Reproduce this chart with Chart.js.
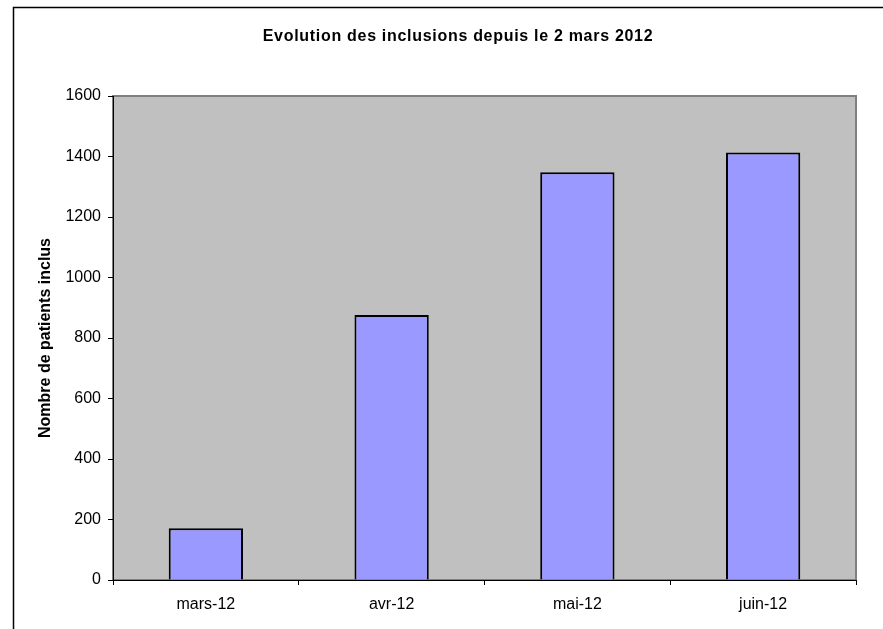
<!DOCTYPE html>
<html>
<head>
<meta charset="utf-8">
<script src="https://cdn.jsdelivr.net/npm/chart.js@4/dist/chart.umd.min.js"></script>
<style>
html,body{margin:0;padding:0;background:#fff;}
canvas{display:block;}
</style>
</head>
<body>
<canvas id="c" width="883" height="629"></canvas>
<script>
const categories = ["mars-12", "avr-12", "mai-12", "juin-12"];
const inclusions = [171, 876, 1348, 1413];
const chartTitle = "Evolution des inclusions depuis le 2 mars 2012";
const yTitle = "Nombre de patients inclus";

const FONT = "'Liberation Sans', Arial, sans-serif";

const framePlugin = {
  id: 'frame',
  beforeDraw(chart) {
    const ctx = chart.ctx;
    const a = chart.chartArea;
    ctx.save();
    ctx.fillStyle = '#fff';
    ctx.fillRect(0, 0, chart.width, chart.height);
    // outer chart frame
    ctx.strokeStyle = '#000';
    ctx.lineWidth = 1.5;
    ctx.strokeRect(13.5, 7.5, 940, 700);
    // plot area
    ctx.fillStyle = '#C0C0C0';
    ctx.fillRect(a.left, a.top, a.right - a.left, a.bottom - a.top);
    ctx.strokeStyle = '#808080';
    ctx.lineWidth = 2;
    ctx.strokeRect(a.left, a.top, a.right - a.left, a.bottom - a.top);
    // title
    ctx.fillStyle = '#000';
    ctx.font = "bold 16px " + FONT;
    ctx.textAlign = 'center';
    ctx.textBaseline = 'middle';
    try { ctx.letterSpacing = '0.7px'; } catch (e) {}
    ctx.fillText(chartTitle, 458, 37);
    ctx.restore();
  }
};

new Chart(document.getElementById('c'), {
  type: 'bar',
  data: {
    labels: categories,
    datasets: [{
      data: inclusions,
      backgroundColor: '#9999FF',
      borderColor: '#000',
      borderWidth: 2,
      categoryPercentage: 1,
      barPercentage: 0.4
    }]
  },
  options: {
    responsive: false,
    animation: false,
    devicePixelRatio: 1,
    layout: { padding: { left: 0, right: 27, top: 96, bottom: 0 } },
    plugins: {
      legend: { display: false },
      title: { display: false },
      tooltip: { enabled: false }
    },
    scales: {
      x: {
        afterFit(s) { s.height = 49; },
        grid: { offset: true, drawOnChartArea: false, tickLength: 5, color: '#000', lineWidth: 1 },
        border: { color: '#000', width: 1 },
        ticks: { color: '#000', font: { family: FONT, size: 16 }, padding: 10, maxRotation: 0 }
      },
      y: {
        min: 0, max: 1600,
        afterFit(s) { s.width = 113; },
        grid: { drawOnChartArea: false, tickLength: 5, color: '#000', lineWidth: 1 },
        border: { color: '#000', width: 1 },
        ticks: {
          stepSize: 200, color: '#000', font: { family: FONT, size: 16 }, padding: 7,
          callback: (v) => String(v)
        },
        title: {
          display: true, text: yTitle, color: '#000',
          font: { family: FONT, size: 16, weight: 'bold' },
          padding: { top: 36, bottom: 0 }
        }
      }
    }
  },
  plugins: [framePlugin]
});
</script>
</body>
</html>
